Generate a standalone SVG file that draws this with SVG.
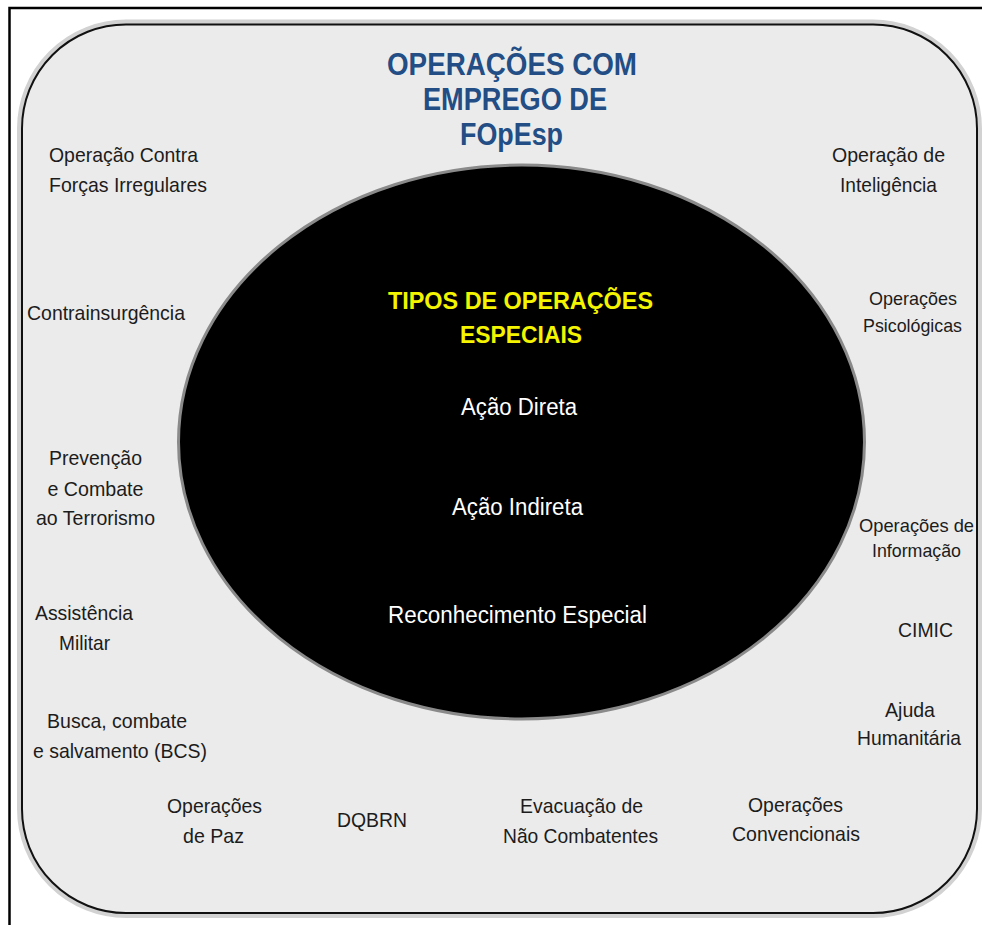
<svg xmlns="http://www.w3.org/2000/svg" width="982" height="925" viewBox="0 0 982 925">
<style>
.t{font-family:"Liberation Sans",Arial,sans-serif;font-size:21px;fill:#1c1c1c;text-anchor:middle}
.s{font-size:19px}
.l{text-anchor:start}
.w{font-family:"Liberation Sans",Arial,sans-serif;font-size:23.5px;fill:#ffffff;text-anchor:middle}
.y{font-family:"Liberation Sans",Arial,sans-serif;font-size:23.5px;font-weight:bold;fill:#f4f400;text-anchor:middle}
.b{font-family:"Liberation Sans",Arial,sans-serif;font-size:31px;font-weight:bold;fill:#224d85;text-anchor:middle}
</style>
<rect x="0" y="0" width="982" height="925" fill="#ffffff"/>
<path d="M9.5 925 V8 H982" fill="none" stroke="#000" stroke-width="2.5"/>
<g id="frame">
<rect x="22" y="24.5" width="955" height="888.5" rx="104" ry="104" fill="none" stroke="#d2d2d2" stroke-width="10"/>
<rect x="22" y="24.5" width="955" height="888.5" rx="104" ry="104" fill="#ebebeb" stroke="#111" stroke-width="2"/>
</g>
<g id="title">
<text class="b" x="512" y="75" textLength="250" lengthAdjust="spacingAndGlyphs">OPERAÇÕES COM</text>
<text class="b" x="515" y="110" textLength="184" lengthAdjust="spacingAndGlyphs">EMPREGO DE</text>
<text class="b" x="511.5" y="145" textLength="103" lengthAdjust="spacingAndGlyphs">FOpEsp</text>
</g>
<g id="core">
<ellipse cx="521.5" cy="442" rx="343" ry="277" fill="#000" stroke="#8a8a8a" stroke-width="3"/>
<text class="y" x="520.5" y="309" textLength="265" lengthAdjust="spacingAndGlyphs">TIPOS DE OPERAÇÕES</text>
<text class="y" x="521" y="343" textLength="122" lengthAdjust="spacingAndGlyphs">ESPECIAIS</text>
</g>
<g id="acao-direta"><text class="w" x="519" y="415" textLength="116" lengthAdjust="spacingAndGlyphs">Ação Direta</text></g>
<g id="acao-indireta"><text class="w" x="517.5" y="515" textLength="131" lengthAdjust="spacingAndGlyphs">Ação Indireta</text></g>
<g id="reconhecimento"><text class="w" x="517.5" y="623" textLength="259" lengthAdjust="spacingAndGlyphs">Reconhecimento Especial</text></g>
<g id="forcas-irregulares">
<text class="t l" x="49" y="162" textLength="149" lengthAdjust="spacingAndGlyphs">Operação Contra</text>
<text class="t l" x="49" y="192" textLength="158" lengthAdjust="spacingAndGlyphs">Forças Irregulares</text>
</g>
<g id="contrainsurgencia"><text class="t" x="106" y="320" textLength="158" lengthAdjust="spacingAndGlyphs">Contrainsurgência</text></g>
<g id="terrorismo">
<text class="t" x="95.5" y="465" textLength="93" lengthAdjust="spacingAndGlyphs">Prevenção</text>
<text class="t" x="95.5" y="496" textLength="96" lengthAdjust="spacingAndGlyphs">e Combate</text>
<text class="t" x="95.5" y="525" textLength="119" lengthAdjust="spacingAndGlyphs">ao Terrorismo</text>
</g>
<g id="assistencia">
<text class="t" x="84" y="620" textLength="98" lengthAdjust="spacingAndGlyphs">Assistência</text>
<text class="t" x="84.5" y="650" textLength="51" lengthAdjust="spacingAndGlyphs">Militar</text>
</g>
<g id="bcs">
<text class="t" x="117" y="728" textLength="140" lengthAdjust="spacingAndGlyphs">Busca, combate</text>
<text class="t" x="120" y="758" textLength="174" lengthAdjust="spacingAndGlyphs">e salvamento (BCS)</text>
</g>
<g id="paz">
<text class="t" x="214.5" y="813" textLength="95" lengthAdjust="spacingAndGlyphs">Operações</text>
<text class="t" x="213.5" y="843" textLength="61" lengthAdjust="spacingAndGlyphs">de Paz</text>
</g>
<g id="dqbrn"><text class="t" x="372" y="827" textLength="70" lengthAdjust="spacingAndGlyphs">DQBRN</text></g>
<g id="evacuacao">
<text class="t" x="581.5" y="813" textLength="123" lengthAdjust="spacingAndGlyphs">Evacuação de</text>
<text class="t" x="580.5" y="843" textLength="155" lengthAdjust="spacingAndGlyphs">Não Combatentes</text>
</g>
<g id="convencionais">
<text class="t" x="795.5" y="812" textLength="95" lengthAdjust="spacingAndGlyphs">Operações</text>
<text class="t" x="796" y="841" textLength="128" lengthAdjust="spacingAndGlyphs">Convencionais</text>
</g>
<g id="inteligencia">
<text class="t" x="888.5" y="162" textLength="113" lengthAdjust="spacingAndGlyphs">Operação de</text>
<text class="t" x="888.5" y="192" textLength="97" lengthAdjust="spacingAndGlyphs">Inteligência</text>
</g>
<g id="psicologicas">
<text class="t s" x="913" y="305" textLength="88" lengthAdjust="spacingAndGlyphs">Operações</text>
<text class="t s" x="912.5" y="332" textLength="99" lengthAdjust="spacingAndGlyphs">Psicológicas</text>
</g>
<g id="informacao">
<text class="t s" x="916.5" y="532" textLength="115" lengthAdjust="spacingAndGlyphs">Operações de</text>
<text class="t s" x="916.5" y="557" textLength="89" lengthAdjust="spacingAndGlyphs">Informação</text>
</g>
<g id="cimic"><text class="t" x="925.5" y="637" textLength="55" lengthAdjust="spacingAndGlyphs">CIMIC</text></g>
<g id="ajuda">
<text class="t" x="910" y="717" textLength="50" lengthAdjust="spacingAndGlyphs">Ajuda</text>
<text class="t" x="909" y="745" textLength="104" lengthAdjust="spacingAndGlyphs">Humanitária</text>
</g>
<g id="connectors"/>
</svg>
